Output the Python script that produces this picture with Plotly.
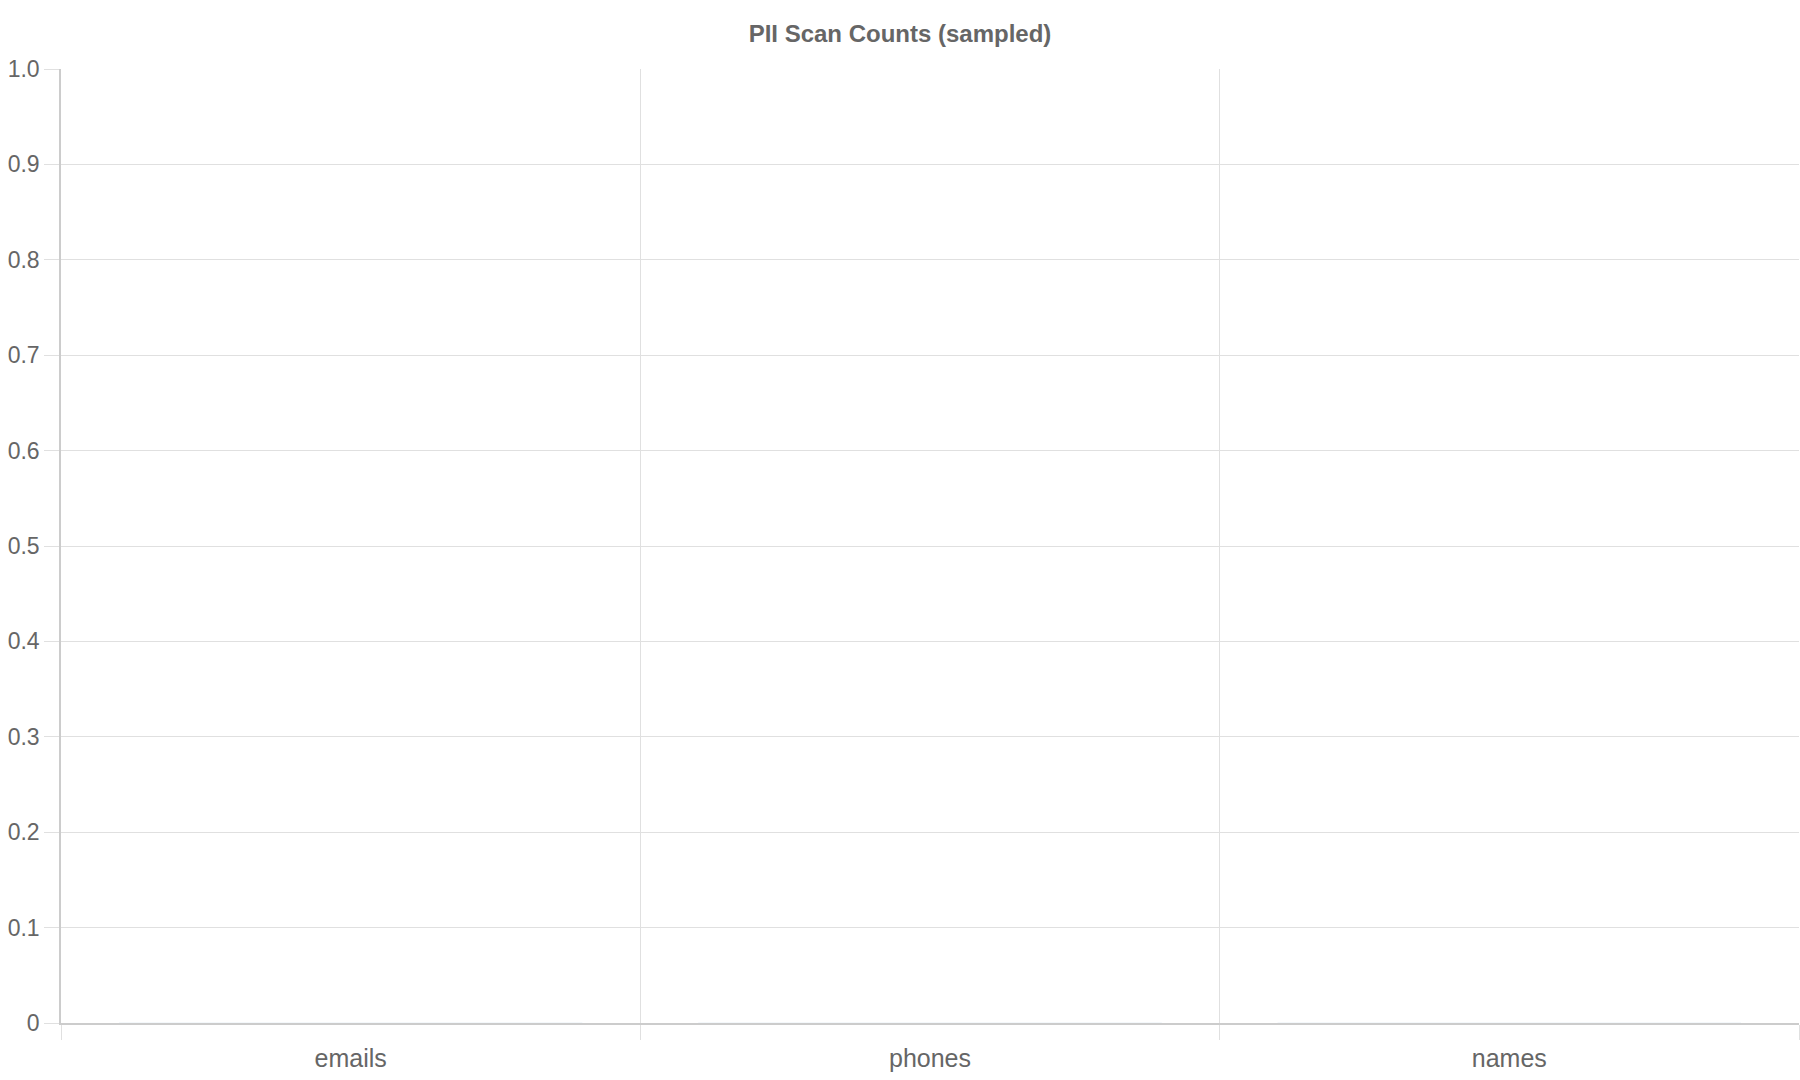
import plotly.graph_objects as go

# data: every count is zero, so nothing shows
categories = ["emails", "phones", "names"]
counts = [0, 0, 0]
y_tick_vals = [0, 0.1, 0.2, 0.3, 0.4, 0.5, 0.6, 0.7, 0.8, 0.9, 1.0]
y_tick_text = ["0", "0.1", "0.2", "0.3", "0.4", "0.5", "0.6", "0.7", "0.8", "0.9", "1.0"]

TEXT = "#666666"
GRID = "#e0e0e0"
AXIS = "#cccccc"

fig = go.Figure()
fig.add_trace(go.Bar(x=categories, y=counts, marker_color="#5470c6", showlegend=False))

fig.update_layout(
    title=dict(
        text="<b>PII Scan Counts (sampled)</b>",
        x=0.5, xanchor="center",
        y=1 - 34 / 1080, yanchor="middle",
        font=dict(family="Liberation Sans", size=24, color=TEXT),
    ),
    width=1800,
    height=1080,
    margin=dict(l=61, r=1, t=69, b=57),
    paper_bgcolor="white",
    plot_bgcolor="white",
    font=dict(family="Liberation Sans", size=23, color=TEXT),
    bargap=0.2,
)

fig.update_xaxes(
    type="category",
    tickson="boundaries",
    ticks="outside",
    ticklen=15,
    tickcolor=GRID,
    showgrid=True,
    gridcolor=GRID,
    showline=True,
    linecolor=AXIS,
    linewidth=1.5,
    tickfont=dict(size=25, color=TEXT),
    ticklabelstandoff=12,
)

fig.update_yaxes(
    range=[0, 1],
    tickvals=y_tick_vals,
    ticktext=y_tick_text,
    ticks="outside",
    ticklen=15,
    tickcolor=GRID,
    showgrid=True,
    gridcolor=GRID,
    zeroline=False,
    showline=True,
    linecolor=AXIS,
    linewidth=1.5,
    tickfont=dict(size=23, color=TEXT),
    fixedrange=True,
)

# drop the page's default body margin so the figure sits at the window corner
fig.write_html(
    "out.html",
    config={"displayModeBar": False},
    post_script="document.body.style.margin='0';",
)
